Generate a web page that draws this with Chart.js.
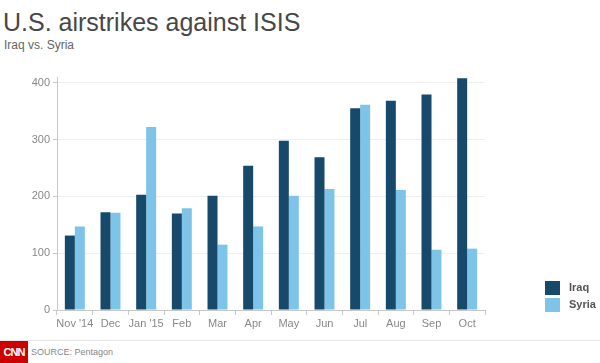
<!DOCTYPE html>
<html>
<head>
<meta charset="utf-8">
<script src="https://cdn.jsdelivr.net/npm/chart.js@4"></script>
<style>
  body { margin: 0; background: #fff; font-family: "Liberation Sans", Arial, sans-serif; }
  #wrap { position: relative; width: 600px; height: 363px; overflow: hidden; }
  #title { position: absolute; left: 3px; top: 8px; font-size: 25px; color: #474747; }
  #subtitle { position: absolute; left: 4px; top: 38px; font-size: 12px; color: #666; }
  #chartBox { position: absolute; left: 0; top: 60px; width: 600px; height: 280px; }
  #footer { position: absolute; left: 0; top: 340px; width: 600px; height: 23px; border-top: 1px solid #e6e6e6; }
  #logo { position: absolute; left: 0; top: 0; width: 28px; height: 23px; background: #cc0000; color: #fff;
          font-weight: bold; font-size: 11px; line-height: 23px; text-align: center; letter-spacing: -1px; }
  #source { position: absolute; left: 31px; top: 6px; font-size: 9px; color: #888; }
</style>
</head>
<body>
<div id="wrap">
  <div id="title">U.S. airstrikes against ISIS</div>
  <div id="subtitle">Iraq vs. Syria</div>
  <div id="chartBox"><canvas id="strikesChart"></canvas></div>
  <div id="footer"><div id="logo">CNN</div><div id="source">SOURCE: Pentagon</div></div>
</div>
<script>
// Monthly airstrikes
const months = ["Nov '14", "Dec", "Jan '15", "Feb", "Mar", "Apr", "May", "Jun", "Jul", "Aug", "Sep", "Oct"];
const iraqStrikes = [131, 172, 203, 170, 201, 254, 298, 269, 355, 368, 379, 408];
const syriaStrikes = [147, 171, 322, 179, 115, 147, 201, 213, 361, 211, 106, 108];
const yTicks = [0, 100, 200, 300, 400];

const iraqColor = "#17496a";
const syriaColor = "#7ec4e9";

// small legend at the lower right, drawn from the datasets
const sideLegend = {
  id: "sideLegend",
  afterDraw(chart) {
    const ctx = chart.ctx;
    ctx.save();
    ctx.font = "bold 11px 'Liberation Sans', Arial, sans-serif";
    ctx.textBaseline = "middle";
    chart.data.datasets.forEach((ds, i) => {
      const y = 221 + i * 17;
      ctx.fillStyle = ds.backgroundColor;
      ctx.fillRect(545, y, 15, 14);
      ctx.fillStyle = "#555";
      ctx.fillText(ds.label, 569, y + 7);
    });
    ctx.restore();
  }
};

new Chart(document.getElementById("strikesChart").getContext("2d"), {
  type: "bar",
  data: {
    labels: months,
    datasets: [
      { label: "Iraq", data: iraqStrikes, backgroundColor: iraqColor },
      { label: "Syria", data: syriaStrikes, backgroundColor: syriaColor }
    ]
  },
  options: {
    responsive: true,
    maintainAspectRatio: false,
    animation: false,
    layout: { padding: { top: 17, right: 115, left: 0, bottom: 0 } },
    datasets: { bar: { categoryPercentage: 0.56, barPercentage: 1 } },
    plugins: { legend: { display: false }, tooltip: { enabled: false } },
    scales: {
      x: {
        grid: { drawOnChartArea: false, tickLength: 5, tickColor: "#c8c8c8" },
        border: { color: "#c8c8c8" },
        ticks: { color: "#888", font: { size: 11, family: "'Liberation Sans', Arial" }, maxRotation: 0, autoSkip: false, padding: 2 },
        afterFit(scale) { scale.height = 30; }
      },
      y: {
        min: 0,
        max: 410,
        afterBuildTicks(scale) { scale.ticks = yTicks.map(v => ({ value: v })); },
        grid: { color: "#efefef", tickLength: 4, tickColor: "#c8c8c8" },
        border: { color: "#c8c8c8" },
        ticks: { color: "#888", font: { size: 11, family: "'Liberation Sans', Arial" }, padding: 3 },
        afterFit(scale) { scale.width = 57; }
      }
    }
  },
  plugins: [sideLegend]
});
</script>
</body>
</html>
